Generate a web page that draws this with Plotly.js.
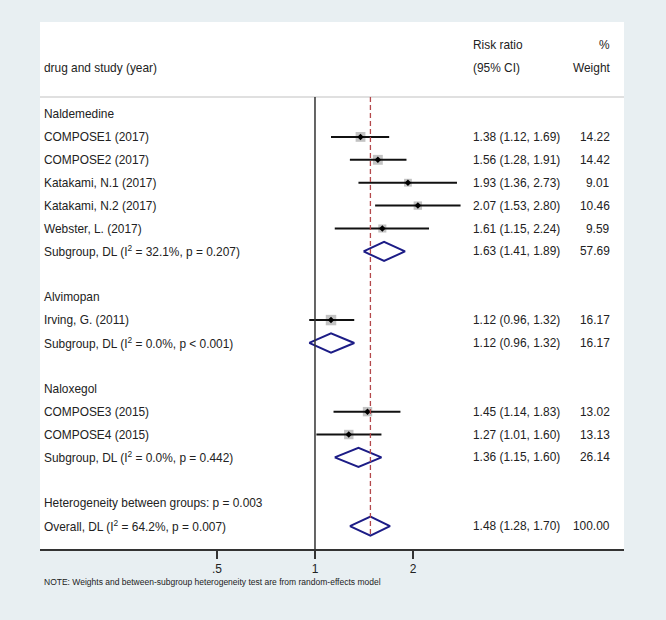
<!DOCTYPE html>
<html>
<head>
<meta charset="utf-8">
<script src="https://cdn.plot.ly/plotly-3.0.1.min.js"></script>
<style>html,body{margin:0;padding:0;background:#e8eff2;}</style>
</head>
<body>
<div id="chart" style="width:666px;height:620px;"></div>
<script>
// ---- data ----
const groups = ['Naldemedine', 'Alvimopan', 'Naloxegol'];
const studies = ['COMPOSE1 (2017)', 'COMPOSE2 (2017)', 'Katakami, N.1 (2017)', 'Katakami, N.2 (2017)', 'Webster, L. (2017)', 'Irving, G. (2011)', 'COMPOSE3 (2015)', 'COMPOSE4 (2015)'];
const studyGroup = [0, 0, 0, 0, 0, 1, 2, 2];
const studyRR = [1.38, 1.56, 1.93, 2.07, 1.61, 1.12, 1.45, 1.27];
const studyLo = [1.12, 1.28, 1.36, 1.53, 1.15, 0.96, 1.14, 1.01];
const studyHi = [1.69, 1.91, 2.73, 2.80, 2.24, 1.32, 1.83, 1.60];
const studyW = [14.22, 14.42, 9.01, 10.46, 9.59, 16.17, 13.02, 13.13];
const subRR = [1.63, 1.12, 1.36];
const subLo = [1.41, 0.96, 1.15];
const subHi = [1.89, 1.32, 1.60];
const subW = [57.69, 16.17, 26.14];
const subI2 = ['32.1%', '0.0%', '0.0%'];
const subP = ['= 0.207', '< 0.001', '= 0.442'];
const overallRR = 1.48, overallLo = 1.28, overallHi = 1.70, overallW = 100.00;
const overallI2 = '64.2%', overallP = '= 0.007';
const hetP = '0.003';
const tickVals = [0.5, 1, 2];
const tickText = ['.5', '1', '2'];

// ---- layout rows ----
const rows = [];
groups.forEach((g, gi) => {
  rows.push({type: 'group', label: g});
  studies.forEach((s, si) => {
    if (studyGroup[si] === gi) rows.push({type: 'study', label: s, rr: studyRR[si], lo: studyLo[si], hi: studyHi[si], w: studyW[si]});
  });
  rows.push({type: 'diamond', label: 'Subgroup, DL (I<sup>2</sup> = ' + subI2[gi] + ', p ' + subP[gi] + ')', rr: subRR[gi], lo: subLo[gi], hi: subHi[gi], w: subW[gi]});
  rows.push({type: 'blank'});
});
rows.push({type: 'text', label: 'Heterogeneity between groups: p = ' + hetP});
rows.push({type: 'diamond', overall: true, label: 'Overall, DL (I<sup>2</sup> = ' + overallI2 + ', p ' + overallP + ')', rr: overallRR, lo: overallLo, hi: overallHi, w: overallW});

const FONT = '"Liberation Sans", Arial, sans-serif';
const FS = 11.9;
const TXT = '#222';
const annotations = [];
const xLabel = 0.004, xEst = 0.738, xW = 0.9795;
const fmt = v => v.toFixed(2);

const sqX = [], sqY = [], sqS = [];
const ciX = [], ciY = [];
const ptX = [], ptY = [];
const dmX = [], dmY = [];
const H = 0.42;
let overallRow = 0;

rows.forEach((r, i) => {
  if (r.type === 'blank') return;
  annotations.push({x: xLabel, xref: 'paper', y: i, yref: 'y', text: r.label, showarrow: false, xanchor: 'left', yanchor: 'middle', font: {family: FONT, size: FS, color: TXT}});
  if (r.type === 'study' || r.type === 'diamond') {
    annotations.push({x: xEst, xref: 'paper', y: i, yref: 'y', text: fmt(r.rr) + ' (' + fmt(r.lo) + ', ' + fmt(r.hi) + ')', showarrow: false, xanchor: 'left', yanchor: 'middle', font: {family: FONT, size: FS, color: TXT}});
    annotations.push({x: xW, xref: 'paper', y: i, yref: 'y', text: fmt(r.w), showarrow: false, xanchor: 'right', yanchor: 'middle', font: {family: FONT, size: FS, color: TXT}});
  }
  if (r.type === 'study') {
    sqX.push(r.rr); sqY.push(i); sqS.push(2.6 * Math.sqrt(r.w));
    ciX.push(r.lo, r.hi, null); ciY.push(i, i, null);
    ptX.push(r.rr); ptY.push(i);
  }
  if (r.type === 'diamond') {
    dmX.push(r.lo, r.rr, r.hi, r.rr, r.lo, null);
    dmY.push(i, i - H, i, i + H, i, null);
    if (r.overall) overallRow = i;
  }
});

const hdr = (x, y, t, anchor) => annotations.push({x: x, xref: 'paper', y: y, yref: 'y', text: t, showarrow: false, xanchor: anchor, yanchor: 'middle', font: {family: FONT, size: FS, color: TXT}});
hdr(xLabel, -2, 'drug and study (year)', 'left');
hdr(xEst, -3, 'Risk ratio', 'left');
hdr(xEst, -2, '(95% CI)', 'left');
hdr(xW, -3, '%', 'right');
hdr(xW, -2, 'Weight', 'right');
annotations.push({x: 0.004, xref: 'paper', y: -0.063, yref: 'paper', text: 'NOTE: Weights and between-subgroup heterogeneity test are from random-effects model', showarrow: false, xanchor: 'left', yanchor: 'middle', font: {family: FONT, size: 8.5, color: TXT}});

const SEP = -0.74;
const yBottom = 19.0, yTop = -4.02;

const traces = [
  {x: sqX, y: sqY, mode: 'markers', type: 'scatter', marker: {symbol: 'square', size: sqS, color: '#a9a9a9', line: {width: 0}}, hoverinfo: 'skip'},
  {x: ciX, y: ciY, mode: 'lines', type: 'scatter', line: {color: '#111', width: 2}, hoverinfo: 'skip'},
  {x: ptX, y: ptY, mode: 'markers', type: 'scatter', marker: {symbol: 'diamond', size: 5, color: '#000'}, hoverinfo: 'skip'},
  {x: dmX, y: dmY, mode: 'lines', type: 'scatter', line: {color: '#1c1c86', width: 2}, hoverinfo: 'skip'}
];

const shapes = [
  {type: 'line', xref: 'paper', x0: 0, x1: 1, yref: 'y', y0: SEP, y1: SEP, line: {color: '#d6d6d6', width: 1.5}},
  {type: 'line', xref: 'x', x0: 1, x1: 1, yref: 'y', y0: SEP, y1: yBottom, line: {color: '#333', width: 1.5}},
  {type: 'line', xref: 'x', x0: overallRR, x1: overallRR, yref: 'y', y0: SEP, y1: overallRow + H, line: {color: '#b4484b', width: 1.3, dash: '5px,3px'}}
];

const layout = {
  width: 666, height: 620,
  margin: {l: 40, r: 42, t: 22, b: 71, pad: 0},
  paper_bgcolor: '#e8eff2',
  plot_bgcolor: '#ffffff',
  showlegend: false,
  xaxis: {type: 'log', range: [-0.8447, 0.9492], tickvals: tickVals, ticktext: tickText, ticks: 'outside', ticklen: 8, tickwidth: 1.3, tickcolor: '#333', showline: true, linecolor: '#333', linewidth: 1.5, showgrid: false, zeroline: false, tickfont: {family: FONT, size: 12, color: TXT}, fixedrange: true},
  yaxis: {range: [yBottom, yTop], showgrid: false, zeroline: false, showticklabels: false, showline: false, ticks: '', fixedrange: true},
  annotations: annotations,
  shapes: shapes
};

Plotly.newPlot('chart', traces, layout, {displayModeBar: false, staticPlot: true});
</script>
</body>
</html>
